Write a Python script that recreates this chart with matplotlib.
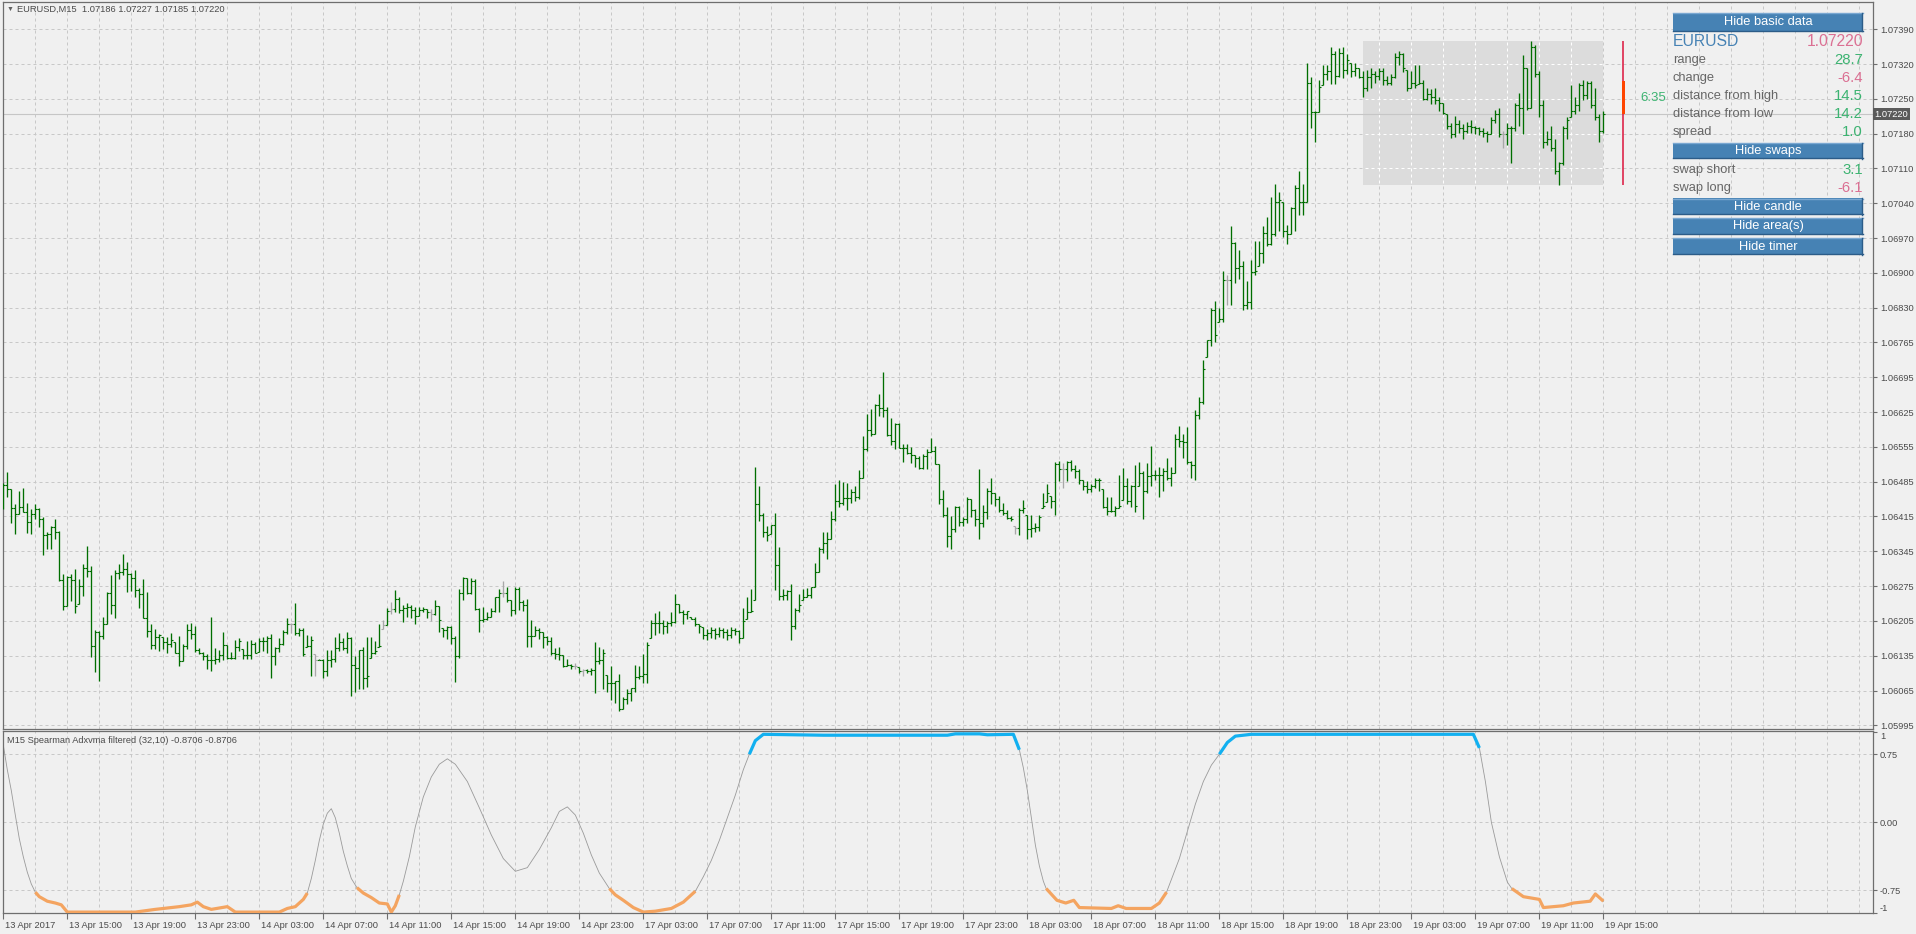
import numpy as np
import matplotlib.pyplot as plt
from matplotlib.patches import Rectangle
from matplotlib import transforms

plt.rcParams['font.family'] = ['Liberation Sans', 'DejaVu Sans']

# EURUSD M15 bars, in points above 1.06000 (1 point = 0.00001)
high = [480, 503, 469, 439, 465, 471, 441, 429, 439, 431,
        413, 383, 394, 408, 385, 298, 294, 298, 308, 288,
        318, 354, 314, 185, 184, 212, 262, 296, 306, 318,
        338, 322, 301, 306, 271, 288, 262, 199, 188, 177,
        171, 171, 179, 161, 174, 158, 199, 201, 195, 149,
        141, 137, 212, 149, 146, 181, 155, 141, 165, 169,
        147, 164, 165, 161, 169, 171, 173, 178, 152, 169,
        186, 211, 200, 241, 189, 190, 176, 174, 138, 127,
        127, 146, 146, 171, 179, 169, 182, 171, 133, 145,
        151, 171, 171, 163, 198, 207, 231, 243, 266, 253,
        236, 241, 236, 233, 232, 233, 229, 229, 247, 234,
        191, 195, 195, 174, 268, 293, 290, 290, 288, 231,
        233, 223, 231, 253, 268, 284, 272, 246, 273, 272,
        246, 248, 206, 194, 191, 181, 173, 171, 149, 151,
        136, 127, 118, 119, 111, 107, 107, 109, 161, 151,
        147, 95, 113, 84, 98, 52, 67, 70, 115, 114,
        138, 161, 206, 220, 225, 206, 205, 223, 258, 238,
        227, 225, 212, 212, 199, 192, 188, 192, 190, 192,
        190, 188, 192, 191, 186, 231, 253, 269, 512, 475,
        421, 394, 397, 420, 353, 268, 266, 279, 231, 258,
        269, 270, 273, 321, 353, 383, 383, 425, 479, 486,
        482, 481, 469, 475, 506, 575, 619, 629, 638, 659,
        703, 633, 610, 601, 601, 558, 558, 553, 536, 534,
        538, 549, 570, 555, 519, 466, 432, 414, 434, 434,
        412, 453, 449, 429, 508, 437, 471, 491, 460, 454,
        440, 427, 414, 394, 431, 447, 417, 416, 401, 416,
        460, 479, 454, 523, 525, 521, 525, 527, 516, 508,
        486, 484, 479, 490, 490, 469, 453, 453, 434, 497,
        510, 491, 477, 516, 523, 505, 521, 555, 506, 512,
        511, 531, 512, 579, 595, 579, 592, 525, 627, 653,
        728, 767, 832, 845, 832, 906, 898, 995, 963, 947,
        925, 886, 928, 965, 965, 995, 1014, 1054, 1079, 1063,
        1043, 997, 1034, 1077, 1105, 1079, 1323, 1295, 1226, 1289,
        1318, 1318, 1354, 1346, 1352, 1354, 1341, 1323, 1323, 1312,
        1306, 1309, 1312, 1306, 1312, 1312, 1297, 1301, 1343, 1346,
        1343, 1309, 1306, 1318, 1318, 1289, 1272, 1270, 1272, 1255,
        1243, 1220, 1203, 1217, 1209, 1201, 1205, 1209, 1197, 1194,
        1192, 1186, 1215, 1228, 1232, 1186, 1203, 1197, 1243, 1263,
        1338, 1312, 1366, 1358, 1306, 1249, 1186, 1197, 1169, 1123,
        1197, 1215, 1278, 1255, 1283, 1289, 1286, 1286, 1272, 1220,
        1226]
low = [428, 453, 401, 379, 418, 422, 381, 379, 408, 393,
       337, 349, 349, 368, 284, 227, 235, 245, 221, 239,
       254, 293, 131, 101, 84, 167, 199, 218, 210, 289,
       296, 262, 264, 253, 231, 211, 171, 148, 147, 143,
       147, 140, 151, 139, 113, 123, 147, 167, 141, 137,
       125, 107, 104, 117, 121, 125, 127, 127, 127, 144,
       127, 127, 127, 139, 142, 144, 140, 90, 115, 141,
       156, 177, 179, 175, 173, 133, 151, 94, 94, 125,
       89, 94, 111, 121, 143, 146, 139, 54, 62, 67,
       67, 72, 129, 138, 151, 187, 197, 219, 223, 221,
       203, 213, 211, 199, 214, 223, 210, 205, 217, 181,
       171, 168, 158, 81, 129, 246, 258, 258, 227, 181,
       203, 206, 213, 223, 223, 252, 242, 214, 219, 226,
       224, 151, 151, 173, 168, 149, 156, 135, 128, 126,
       111, 113, 107, 107, 99, 94, 99, 96, 60, 117,
       67, 62, 46, 39, 24, 27, 38, 44, 62, 87,
       80, 80, 170, 175, 180, 178, 180, 194, 200, 220,
       199, 209, 208, 194, 180, 168, 165, 170, 168, 172,
       170, 166, 170, 175, 160, 170, 209, 223, 246, 405,
       373, 364, 379, 266, 246, 246, 246, 165, 188, 223,
       247, 252, 251, 272, 303, 340, 329, 368, 405, 433,
       437, 426, 440, 444, 449, 491, 545, 575, 579, 614,
       612, 575, 556, 549, 551, 523, 538, 521, 512, 508,
       508, 508, 542, 518, 438, 412, 353, 349, 383, 394,
       395, 400, 412, 394, 368, 392, 409, 438, 434, 422,
       416, 408, 405, 379, 377, 420, 368, 373, 383, 385,
       431, 442, 431, 416, 484, 471, 484, 505, 490, 479,
       466, 460, 462, 471, 464, 431, 417, 423, 414, 431,
       447, 438, 432, 423, 475, 408, 460, 475, 486, 453,
       464, 486, 475, 501, 553, 531, 519, 490, 486, 608,
       638, 734, 756, 764, 804, 804, 838, 838, 882, 890,
       827, 830, 830, 898, 915, 921, 956, 957, 976, 985,
       974, 959, 980, 985, 1017, 1017, 1043, 1192, 1163, 1224,
       1278, 1289, 1281, 1281, 1295, 1293, 1300, 1295, 1297, 1293,
       1255, 1266, 1272, 1283, 1289, 1278, 1278, 1278, 1293, 1318,
       1304, 1266, 1272, 1272, 1281, 1249, 1249, 1240, 1240, 1226,
       1220, 1189, 1171, 1174, 1182, 1169, 1182, 1182, 1180, 1178,
       1174, 1163, 1180, 1203, 1174, 1151, 1157, 1121, 1186, 1197,
       1180, 1228, 1232, 1295, 1215, 1151, 1157, 1146, 1100, 1077,
       1117, 1169, 1215, 1220, 1226, 1249, 1251, 1232, 1209, 1163,
       1182]
close = [477, 469, 430, 418, 432, 422, 402, 418, 429, 408,
         376, 378, 392, 383, 286, 235, 293, 286, 235, 274,
         310, 304, 154, 181, 173, 199, 261, 237, 300, 303,
         308, 299, 290, 266, 258, 211, 183, 156, 171, 175,
         161, 157, 165, 139, 123, 153, 185, 178, 146, 139,
         134, 126, 126, 127, 135, 155, 129, 130, 151, 163,
         136, 136, 157, 140, 163, 163, 170, 134, 150, 157,
         182, 199, 199, 179, 186, 138, 153, 166, 126, 125,
         104, 126, 127, 149, 162, 149, 169, 116, 110, 145,
         90, 94, 139, 143, 153, 196, 225, 228, 249, 226,
         231, 233, 226, 215, 226, 229, 223, 219, 234, 206,
         186, 193, 169, 133, 260, 290, 261, 285, 229, 207,
         209, 213, 225, 252, 260, 261, 246, 226, 268, 242,
         236, 173, 174, 186, 181, 171, 163, 139, 138, 135,
         114, 115, 113, 113, 104, 105, 104, 105, 123, 125,
         139, 79, 79, 84, 28, 47, 60, 69, 92, 94,
         97, 156, 200, 200, 200, 194, 200, 203, 238, 222,
         218, 224, 208, 199, 194, 176, 180, 185, 178, 186,
         182, 175, 186, 183, 170, 205, 223, 225, 438, 416,
         383, 377, 396, 316, 255, 257, 264, 194, 227, 237,
         252, 257, 272, 303, 349, 360, 369, 408, 445, 440,
         451, 451, 462, 453, 491, 548, 586, 579, 636, 631,
         627, 577, 564, 599, 551, 551, 540, 536, 531, 511,
         534, 543, 545, 518, 449, 416, 375, 389, 432, 403,
         409, 449, 427, 409, 401, 423, 464, 460, 449, 427,
         420, 410, 408, 391, 427, 431, 388, 390, 392, 412,
         434, 460, 444, 519, 508, 508, 523, 508, 505, 486,
         474, 469, 474, 486, 486, 432, 425, 425, 431, 434,
         475, 445, 474, 434, 501, 464, 494, 497, 497, 496,
         505, 490, 501, 568, 565, 562, 523, 516, 616, 642,
         710, 767, 827, 777, 810, 888, 888, 962, 912, 915,
         838, 844, 904, 906, 941, 982, 960, 980, 1043, 1048,
         985, 980, 1031, 1071, 1043, 1043, 1283, 1224, 1224, 1274,
         1301, 1306, 1341, 1297, 1343, 1309, 1329, 1306, 1312, 1295,
         1272, 1295, 1301, 1297, 1306, 1289, 1283, 1295, 1335, 1341,
         1312, 1272, 1283, 1278, 1283, 1251, 1260, 1255, 1249, 1243,
         1223, 1197, 1180, 1201, 1192, 1186, 1197, 1194, 1192, 1186,
         1182, 1180, 1209, 1220, 1180, 1180, 1192, 1192, 1238, 1232,
         1312, 1232, 1354, 1301, 1238, 1163, 1169, 1151, 1106, 1121,
         1192, 1209, 1226, 1238, 1278, 1258, 1283, 1238, 1215, 1186,
         1220]
first_open = 470
flat_bars = [72, 78, 95, 97, 107, 125, 143, 145, 253, 265, 306, 375]
day_start = 340          # first bar of 19 Apr (area box)
day_open = 1286

price_labels = ['1.05995', '1.06065', '1.06135', '1.06205', '1.06275', '1.06345',
                '1.06415', '1.06485', '1.06555', '1.06625', '1.06695', '1.06765',
                '1.06830', '1.06900', '1.06970', '1.07040', '1.07110', '1.07180',
                '1.07250', '1.07320', '1.07390']
time_labels = ['13 Apr 2017', '13 Apr 15:00', '13 Apr 19:00', '13 Apr 23:00',
               '14 Apr 03:00', '14 Apr 07:00', '14 Apr 11:00', '14 Apr 15:00',
               '14 Apr 19:00', '14 Apr 23:00', '17 Apr 03:00', '17 Apr 07:00',
               '17 Apr 11:00', '17 Apr 15:00', '17 Apr 19:00', '17 Apr 23:00',
               '18 Apr 03:00', '18 Apr 07:00', '18 Apr 11:00', '18 Apr 15:00',
               '18 Apr 19:00', '18 Apr 23:00', '19 Apr 03:00', '19 Apr 07:00',
               '19 Apr 11:00', '19 Apr 15:00']

# Spearman Adxvma filtered (32,10): (bar, value) vertices
ind_x = [0, 1, 2, 3, 4, 5, 6, 7, 8, 9, 11, 13, 14.5, 16, 33, 38, 44, 47, 48.5, 50,
         52, 56, 57, 58, 69, 71, 73, 75, 76, 77, 78, 79, 80, 81, 82, 83, 84, 85, 86, 87,
         88.4, 90, 92, 94, 96, 97, 98, 99, 100, 101.5, 103, 105, 107, 109, 111, 113,
         116, 119, 122, 125, 128, 131, 134, 137, 139, 141, 143, 145, 147, 149, 151.5,
         153, 155, 157.5, 160, 163, 167, 170, 173, 175, 177, 179, 181, 183, 185, 186.5,
         188, 190, 205, 236, 238, 244, 246, 252.5, 254, 255, 256, 257, 258, 259, 260,
         260.7, 263.4, 265.6, 267.6, 269, 277, 278.7, 280.7, 287, 289, 290.8, 292, 294,
         296, 298, 300, 302, 304, 306, 308, 312, 367.5, 369, 370.5, 372, 374, 376,
         377.1, 380, 384, 385, 390, 392.5, 396.7, 398, 400]
ind_y = [0.85, 0.58, 0.35, 0.08, -0.18, -0.38, -0.55, -0.68, -0.77, -0.82, -0.87, -0.89,
         -0.91, -0.99, -0.99, -0.96, -0.93, -0.91, -0.88, -0.93, -0.96, -0.93, -0.96,
         -0.99, -0.99, -0.95, -0.93, -0.85, -0.78, -0.62, -0.42, -0.2, -0.02, 0.1, 0.15,
         0.05, -0.12, -0.32, -0.48, -0.62, -0.72, -0.78, -0.83, -0.89, -0.9, -0.99,
         -0.92, -0.8, -0.65, -0.38, -0.05, 0.28, 0.5, 0.64, 0.7, 0.64, 0.45, 0.16, -0.14,
         -0.4, -0.54, -0.5, -0.3, -0.06, 0.12, 0.17, 0.08, -0.12, -0.36, -0.56, -0.73,
         -0.8, -0.86, -0.94, -0.99, -0.98, -0.95, -0.88, -0.76, -0.6, -0.42, -0.2, 0.05,
         0.3, 0.58, 0.75, 0.9, 0.97, 0.96, 0.96, 0.975, 0.975, 0.965, 0.97, 0.8, 0.6,
         0.35, 0.05, -0.25, -0.48, -0.65, -0.73, -0.86, -0.89, -0.86, -0.94, -0.95,
         -0.92, -0.95, -0.95, -0.89, -0.77, -0.63, -0.4, -0.1, 0.2, 0.45, 0.63, 0.75,
         0.88, 0.95, 0.97, 0.97, 0.82, 0.45, 0.0, -0.38, -0.66, -0.73, -0.82, -0.85,
         -0.94, -0.92, -0.89, -0.87, -0.79, -0.87]
ind_ticks = [1, 0.75, 0, -0.75, -1]
ind_tick_labels = ['1', '0.75', '0.00', '-0.75', '-1']

info_rows = [('range', '28.7', 'up'), ('change', '-6.4', 'dn'),
             ('distance from high', '14.5', 'up'), ('distance from low', '14.2', 'up'),
             ('spread', '1.0', 'up')]
swap_rows = [('swap short', '3.1', 'up'), ('swap long', '-6.1', 'dn')]

assert len(high) == len(low) == len(close)
assert len(ind_x) == len(ind_y)

bg = '#f0f0f0'
grid_c = '#c8c8c8'
spine_c = '#6e6e6e'
txt_c = '#4a4a4a'
green = '#3cb371'
pink = '#db7093'
dash = (0, (3, 3))
W, H = 1916, 934


def place(x0, y0, x1, y1):
    return [x0 / W, 1 - y1 / H, (x1 - x0) / W, (y1 - y0) / H]


fig = plt.figure(figsize=(W / 100, H / 100), dpi=100, facecolor=bg)
ax = fig.add_axes(place(2.5, 2, 1873, 728.5), facecolor=bg)
ax2 = fig.add_axes(place(2.5, 730.5, 1873, 913), facecolor=bg)

n = len(close)
x = np.arange(n)
hi = 1.06 + np.array(high) * 1e-5
lo = 1.06 + np.array(low) * 1e-5
cl = 1.06 + np.array(close) * 1e-5
op = 1.06 + np.r_[first_open, close[:-1]] * 1e-5
op = np.clip(op, lo, hi)
cols = ['#a8a8a8' if i in flat_bars else '#006e00' for i in x]

xmax = 467.4
for a in (ax, ax2):
    a.set_xlim(-0.2, xmax)
    for s in a.spines.values():
        s.set_color(spine_c)
        s.set_linewidth(0.9)

# main price panel
ax.set_ylim(1.06 - 11.4e-5, 1.06 + 1444.5e-5)
tick_vals = [1.05995 + k * 0.0006975 for k in range(len(price_labels))]
ax.yaxis.tick_right()
ax.set_yticks(tick_vals, price_labels)
ax.set_xticks([])
ax.tick_params(axis='y', direction='out', length=3, width=0.8, color=spine_c,
               labelsize=6.7, labelcolor=txt_c, pad=2)

box_hi = hi[day_start:].max()
box_lo = lo[day_start:].min()
area = Rectangle((day_start - 0.1, box_lo), n - 1 - day_start + 0.1, box_hi - box_lo,
                 fc='#dcdcdc', ec='none', zorder=1)
ax.add_patch(area)

for xv in range(8, int(xmax) + 1, 8):
    ax.axvline(xv, color=grid_c, lw=0.72, ls=dash, zorder=0.5)
    ax2.axvline(xv, color=grid_c, lw=0.72, ls=dash, zorder=0.5)
    g = ax.axvline(xv, color='white', lw=0.72, ls=dash, zorder=1.2)
    g.set_clip_path(area)
for yv in tick_vals:
    ax.axhline(yv, color=grid_c, lw=0.72, ls=dash, zorder=0.5)
    g = ax.axhline(yv, color='white', lw=0.72, ls=dash, zorder=1.2)
    g.set_clip_path(area)

ax.axhline(cl[-1], color='#c6c6c6', lw=0.8, zorder=1.5)

ax.vlines(x, lo, hi, colors=cols, lw=0.95, zorder=3)
ax.hlines(op, x - 0.5, x, colors=cols, lw=0.8, zorder=3)
ax.hlines(cl, x, x + 0.5, colors=cols, lw=0.8, zorder=3)

# timer candle
tx = n - 1 + 5
d_open = 1.06 + day_open * 1e-5
ax.vlines(tx, box_lo, box_hi, color='#dc143c', lw=1.1, zorder=4)
ax.add_patch(Rectangle((tx - 0.45, cl[-1]), 0.9, d_open - cl[-1], fc='#ff4500', ec='none', zorder=5))
ax.text(tx + 4.2, (d_open + cl[-1]) / 2, '6:35', color=green, fontsize=9.5, ha='left', va='center')

yx = transforms.blended_transform_factory(ax.transAxes, ax.transData)
ax.text(1.0008, cl[-1], '%.5f' % cl[-1], transform=yx, fontsize=6.7, color='white',
        ha='left', va='center', zorder=6, clip_on=False,
        bbox=dict(boxstyle='square,pad=0.2', fc='#5a5a5a', ec='none'))

# indicator panel
ax2.set_ylim(-1.0, 1.012)
ax2.yaxis.tick_right()
ax2.set_yticks(ind_ticks, ind_tick_labels)
ax2.tick_params(axis='y', direction='out', length=3, width=0.8, color=spine_c,
                labelsize=6.7, labelcolor=txt_c, pad=2)
labs = ax2.get_yticklabels()
labs[0].set_va('top')
labs[-1].set_va('bottom')
for yv in [0.75, 0, -0.75]:
    ax2.axhline(yv, color=grid_c, lw=0.72, ls=dash, zorder=0.5)

ax2.set_xticks(np.arange(len(time_labels)) * 16, time_labels)
ax2.tick_params(axis='x', direction='out', length=4, width=0.8, color=spine_c,
                labelsize=6.7, labelcolor=txt_c, pad=2)
shift = transforms.ScaledTranslation(2 / 100, 0, fig.dpi_scale_trans)
for lab in ax2.get_xticklabels():
    lab.set_ha('left')
    lab.set_transform(lab.get_transform() + shift)

iy = np.array(ind_y)
ax2.plot(ind_x, iy, color='#9a9a9a', lw=0.6, zorder=2)
ax2.plot(ind_x, np.where(iy <= -0.72, iy, np.nan), color='#f4a460', lw=2.3,
         solid_capstyle='butt', zorder=3)
ax2.plot(ind_x, np.where(iy >= 0.72, iy, np.nan), color='#12b0f0', lw=2.3,
         solid_capstyle='butt', zorder=3)

# overlay in pixel coordinates for texts and buttons
ov = fig.add_axes([0, 0, 1, 1])
ov.set_xlim(0, W)
ov.set_ylim(H, 0)
ov.axis('off')

ov.text(7, 9, '\u25bc', fontsize=5, color='#606060', ha='left', va='center')
ov.text(17, 9, 'EURUSD,M15  1.07186 1.07227 1.07185 1.07220', fontsize=6.7,
        color=txt_c, ha='left', va='center')
ov.text(7, 740.5, 'M15 Spearman Adxvma filtered (32,10) -0.8706 -0.8706', fontsize=6.7,
        color=txt_c, ha='left', va='center')


def button(y0, y1, label):
    ov.add_patch(Rectangle((1673, y0), 190, y1 - y0, fc='#4682b4', ec='none'))
    ov.plot([1673, 1863], [y0 + 0.5, y0 + 0.5], color='#7aa8d2', lw=1)
    ov.plot([1673, 1863], [y1 - 0.5, y1 - 0.5], color='#2c5c88', lw=1)
    ov.plot([1862.5, 1862.5], [y0, y1], color='#2c5c88', lw=1)
    ov.text(1768, (y0 + y1) / 2 + 0.5, label, fontsize=9.3, color='white', ha='center', va='center')


button(12.5, 31, 'Hide basic data')
ov.text(1673, 42, 'EURUSD', fontsize=11.3, color='#4682b4', ha='left', va='center')
ov.text(1863, 42, '1.07220', fontsize=11.3, color=pink, ha='right', va='center')
for k, (name, val, kind) in enumerate(info_rows):
    yy = 60 + k * 17.9
    ov.text(1673, yy, name, fontsize=9.3, color='#666666', ha='left', va='center')
    ov.text(1863, yy, val, fontsize=10.7, color=green if kind == 'up' else pink,
            ha='right', va='center')
button(142.5, 158.5, 'Hide swaps')
for k, (name, val, kind) in enumerate(swap_rows):
    yy = 170 + k * 18
    ov.text(1673, yy, name, fontsize=9.3, color='#666666', ha='left', va='center')
    ov.text(1863, yy, val, fontsize=10.7, color=green if kind == 'up' else pink,
            ha='right', va='center')
button(198, 214.5, 'Hide candle')
button(217.5, 234, 'Hide area(s)')
button(237.5, 254.5, 'Hide timer')

fig.savefig('out.png', dpi=100, facecolor=bg)
